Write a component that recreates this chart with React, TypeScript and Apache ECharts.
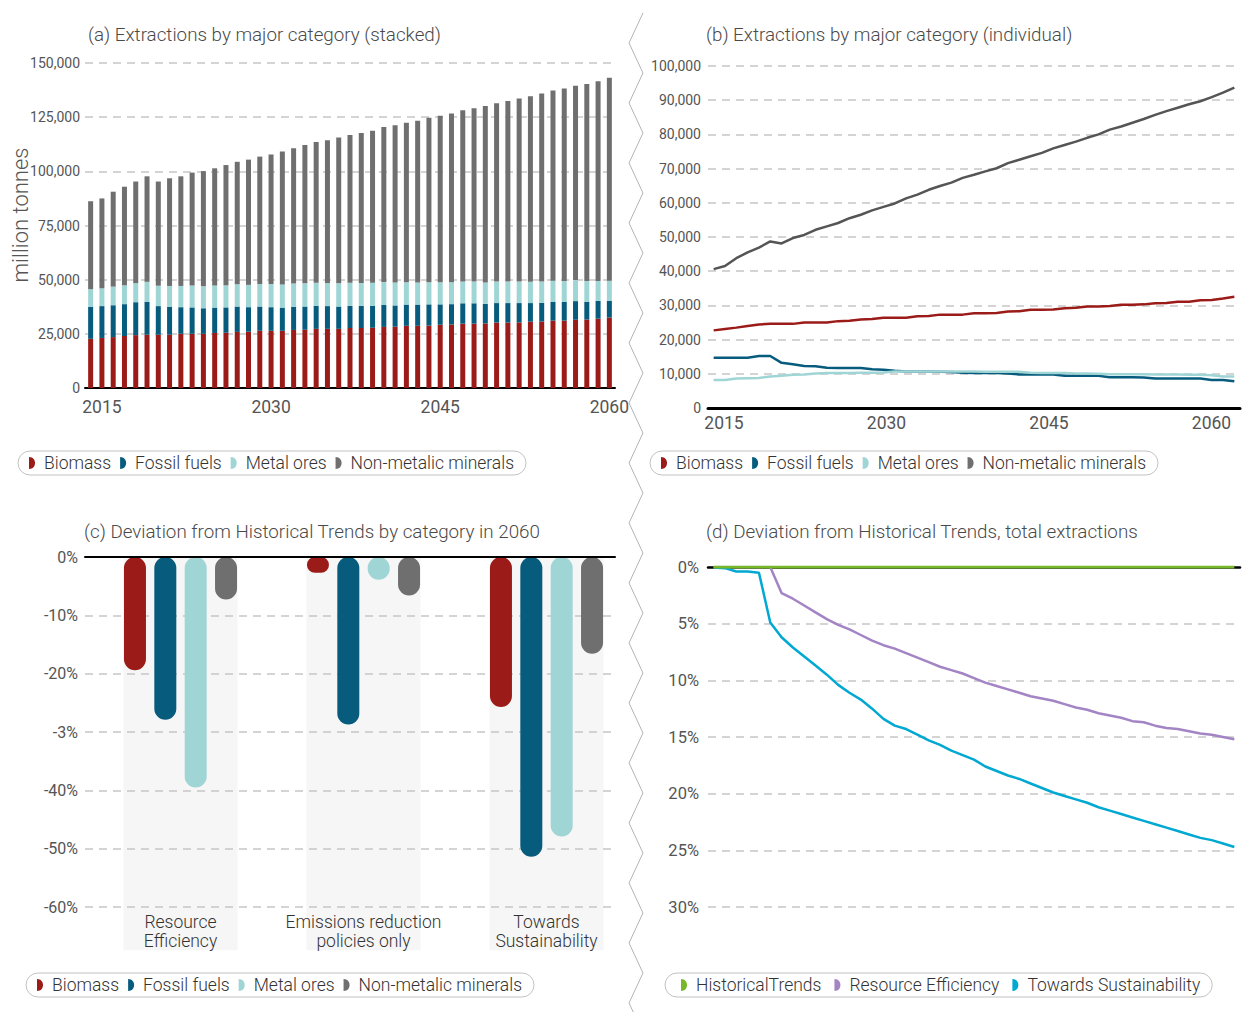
import { useEffect, useRef } from "react";
import * as echarts from "echarts";

// ---------- data ----------
const years = [
  "2014", "2015", "2016", "2017", "2018", "2019", "2020", "2021", "2022", "2023",
  "2024", "2025", "2026", "2027", "2028", "2029", "2030", "2031", "2032", "2033",
  "2034", "2035", "2036", "2037", "2038", "2039", "2040", "2041", "2042", "2043",
  "2044", "2045", "2046", "2047", "2048", "2049", "2050", "2051", "2052", "2053",
  "2054", "2055", "2056", "2057", "2058", "2059", "2060",
];
const yearTicks = ["2015", "2030", "2045", "2060"];
const yearTickValues = [2015, 2030, 2045, 2060];

const categories = ["Biomass", "Fossil fuels", "Metal ores", "Non-metalic minerals"];

const biomass = [
  22700, 23100, 23500, 24000, 24400, 24600, 24600, 24600, 25000, 25000,
  25000, 25400, 25500, 25900, 26000, 26400, 26400, 26400, 26800, 26900,
  27300, 27300, 27300, 27700, 27700, 27800, 28200, 28300, 28700, 28700,
  28800, 29200, 29300, 29700, 29700, 29800, 30200, 30200, 30300, 30600,
  30700, 31100, 31100, 31500, 31600, 32000, 32500,
];
const fossilFuels = [
  14700, 14700, 14700, 14700, 15200, 15200, 13200, 12800, 12300, 12200,
  11800, 11700, 11700, 11700, 11300, 11200, 10900, 10700, 10700, 10700,
  10600, 10500, 10300, 10200, 10200, 10200, 10100, 9800, 9800, 9800,
  9800, 9400, 9400, 9400, 9400, 9000, 9000, 9000, 8900, 8600,
  8600, 8600, 8600, 8600, 8200, 8200, 7800,
];
const metalOres = [
  8200, 8200, 8600, 8700, 8800, 9200, 9400, 9700, 9800, 10100,
  10200, 10200, 10200, 10300, 10300, 10400, 10700, 10700, 10700, 10700,
  10700, 10700, 10700, 10700, 10600, 10600, 10600, 10600, 10300, 10200,
  10200, 10200, 10100, 10100, 10000, 9900, 9900, 9900, 9900, 9800,
  9800, 9800, 9700, 9700, 9600, 9200, 9200,
];
const nonMetallic = [
  40600, 41500, 43800, 45500, 46900, 48700, 48100, 49700, 50600, 52100,
  53100, 54100, 55500, 56500, 57800, 58800, 59800, 61300, 62400, 63800,
  64900, 65900, 67300, 68200, 69200, 70100, 71600, 72600, 73600, 74600,
  75900, 76900, 77900, 79000, 80000, 81400, 82300, 83400, 84500, 85700,
  86800, 87800, 88800, 89700, 90900, 92200, 93700,
];

const scenarios = ["Resource\nEfficiency", "Emissions reduction\npolicies only", "Towards\nSustainability"];
const devBiomass = [-19.4, -2.7, -25.7];
const devFossil = [-27.9, -28.7, -51.4];
const devMetal = [-39.5, -3.9, -47.9];
const devNonMetallic = [-7.3, -6.6, -16.6];
const pctTicksC = ["0%", "-10%", "-20%", "-3%", "-40%", "-50%", "-60%"];

const pathways = ["HistoricalTrends", "Resource Efficiency", "Towards Sustainability"];
const historicalTrends = [
  0, 0, 0, 0, 0, 0, 0, 0, 0, 0,
  0, 0, 0, 0, 0, 0, 0, 0, 0, 0,
  0, 0, 0, 0, 0, 0, 0, 0, 0, 0,
  0, 0, 0, 0, 0, 0, 0, 0, 0, 0,
  0, 0, 0, 0, 0, 0, 0,
];
const resourceEfficiency = [
  0, 0, 0, 0, 0, 0, 2.3, 2.8, 3.4, 4.0,
  4.6, 5.1, 5.5, 6.0, 6.5, 6.9, 7.2, 7.6, 8.0, 8.4,
  8.8, 9.1, 9.4, 9.8, 10.2, 10.5, 10.8, 11.1, 11.4, 11.6,
  11.8, 12.1, 12.4, 12.6, 12.9, 13.1, 13.3, 13.6, 13.7, 14.0,
  14.2, 14.3, 14.5, 14.7, 14.8, 15.0, 15.2,
];
const towardsSustainability = [
  0.05, 0.1, 0.4, 0.4, 0.5, 4.9, 6.2, 7.1, 7.9, 8.7,
  9.5, 10.4, 11.1, 11.7, 12.5, 13.4, 14.0, 14.3, 14.8, 15.3,
  15.7, 16.2, 16.6, 17.0, 17.6, 18.0, 18.4, 18.7, 19.1, 19.5,
  19.9, 20.2, 20.5, 20.8, 21.2, 21.5, 21.8, 22.1, 22.4, 22.7,
  23.0, 23.3, 23.6, 23.9, 24.1, 24.4, 24.7,
];

// ---------- styles ----------
const FONT = 'Roboto, "Noto Sans", sans-serif';
const catColors = ["#9b1b18", "#075b7c", "#a0d5d6", "#6f6f6f"];
const lineColorsB = ["#9b1b18", "#075b7c", "#a0d5d6", "#555555"];
const pathColors = ["#76b82a", "#a384c4", "#00a8d2"];
const labelColor = "#555555";
const gridLine = { show: true, lineStyle: { color: "#c6c6c6", type: [8, 6], width: 1.5 } };
const legendIcon = "path://M0,0 C8,0 8,12 0,12 Z";

function legendBox(left: number, top: number, data: string[], gap: number, padLeft: number) {
  return {
    left,
    top,
    data,
    orient: "horizontal",
    icon: legendIcon,
    itemWidth: 14,
    itemHeight: 12,
    itemGap: gap,
    selectedMode: false,
    padding: [3, 12, 3, padLeft],
    borderColor: "#c2c2c2",
    borderWidth: 1,
    borderRadius: 13,
    textStyle: { fontSize: 17.5, fontWeight: 300, color: "#333333", fontFamily: FONT },
  };
}

function buildOption() {
  const zig: number[][] = [];
  for (let k = 0; k <= 34; k++) zig.push([k % 2 === 0 ? 643 : 629, 13 + 30 * k]);

  const seriesData = [biomass, fossilFuels, metalOres, nonMetallic];
  const devData = [devBiomass, devFossil, devMetal, devNonMetallic];
  const pathData = [historicalTrends, resourceEfficiency, towardsSustainability];

  const series: any[] = [];
  categories.forEach((name, i) => {
    series.push({
      name,
      type: "bar",
      stack: "total",
      xAxisIndex: 0,
      yAxisIndex: 0,
      barWidth: 5,
      data: seriesData[i],
      itemStyle: { color: catColors[i] },
    });
  });
  categories.forEach((name, i) => {
    series.push({
      name,
      type: "line",
      xAxisIndex: 1,
      yAxisIndex: 1,
      symbol: "none",
      data: seriesData[i],
      lineStyle: { color: lineColorsB[i], width: 2.5 },
      itemStyle: { color: catColors[i] },
    });
  });
  series.push({
    name: "band",
    type: "bar",
    xAxisIndex: 5,
    yAxisIndex: 3,
    barWidth: 114,
    clip: false,
    silent: true,
    z: 0,
    data: scenarios.map(() => -67.4),
    itemStyle: { color: "#f6f6f6" },
  });
  categories.forEach((name, i) => {
    series.push({
      name,
      type: "bar",
      xAxisIndex: 4,
      yAxisIndex: 3,
      barWidth: 22,
      barGap: "38%",
      data: devData[i],
      itemStyle: { color: catColors[i], borderRadius: 11 },
    });
  });
  pathways.forEach((name, i) => {
    series.push({
      name,
      type: "line",
      xAxisIndex: 6,
      yAxisIndex: 4,
      symbol: "none",
      z: i === 0 ? 4 : 3,
      data: pathData[i],
      lineStyle: { color: pathColors[i], width: i === 0 ? 3 : 2.5 },
      itemStyle: { color: pathColors[i] },
    });
  });

  const titleStyle = { fontSize: 18.8, fontWeight: 300, color: "#4a4a4a", fontFamily: FONT };

  return {
    animation: false,
    backgroundColor: "#ffffff",
    textStyle: { fontFamily: FONT },
    title: [
      { text: "(a) Extractions by major category (stacked)", left: 88, top: 25, padding: 0, textStyle: titleStyle },
      { text: "(b) Extractions by major category (individual)", left: 706, top: 25, padding: 0, textStyle: titleStyle },
      { text: "(c) Deviation from Historical Trends by category in 2060", left: 84, top: 522, padding: 0, textStyle: titleStyle },
      { text: "(d) Deviation from Historical Trends, total extractions", left: 706, top: 522, padding: 0, textStyle: titleStyle },
    ],
    legend: [
      legendBox(18, 451, categories, 9, 11),
      legendBox(650, 451, categories, 9, 11),
      legendBox(26, 973, categories, 9, 11),
      legendBox(665, 973, pathways, 13, 16),
    ],
    grid: [
      { left: 85, top: 63, width: 530, height: 325 },
      { left: 708, top: 66, width: 532, height: 342 },
      { left: 85, top: 557, width: 530, height: 350 },
      { left: 89, top: 557, width: 549, height: 350 },
      { left: 708, top: 567, width: 532, height: 340 },
    ],
    xAxis: [
      {
        gridIndex: 0,
        type: "category",
        data: years,
        boundaryGap: true,
        axisLine: { lineStyle: { color: "#000000", width: 2 } },
        axisTick: { show: false },
        axisLabel: {
          interval: (_i: number, v: string) => yearTicks.includes(v),
          color: labelColor,
          fontSize: 17.5,
          margin: 10,
        },
      },
      {
        gridIndex: 1,
        type: "category",
        data: years,
        boundaryGap: true,
        axisLine: { lineStyle: { color: "#000000", width: 3 } },
        axisTick: { show: false },
        axisLabel: { show: false },
      },
      {
        gridIndex: 1,
        type: "value",
        position: "bottom",
        min: 2013.52,
        max: 2062.63,
        axisLine: { show: false },
        axisTick: { show: false },
        splitLine: { show: false },
        axisLabel: {
          customValues: yearTickValues,
          formatter: (v: number) => String(v),
          color: labelColor,
          fontSize: 17.5,
          margin: 6,
        },
      },
      {
        gridIndex: 2,
        type: "category",
        data: scenarios,
        position: "top",
        z: 3,
        axisLine: { lineStyle: { color: "#000000", width: 2 } },
        axisTick: { show: false },
        axisLabel: { show: false },
      },
      {
        gridIndex: 3,
        type: "category",
        data: scenarios,
        position: "bottom",
        axisLine: { show: false },
        axisTick: { show: false },
        axisLabel: {
          interval: 0,
          hideOverlap: false,
          color: "#333333",
          fontSize: 17.5,
          fontWeight: 300,
          lineHeight: 19,
          margin: 5,
        },
      },
      {
        gridIndex: 3,
        type: "category",
        data: scenarios,
        position: "bottom",
        show: false,
      },
      {
        gridIndex: 4,
        type: "category",
        data: years,
        position: "top",
        boundaryGap: true,
        axisLine: { lineStyle: { color: "#000000", width: 2.5 } },
        axisTick: { show: false },
        axisLabel: { show: false },
      },
    ],
    yAxis: [
      {
        gridIndex: 0,
        type: "value",
        min: 0,
        max: 150000,
        interval: 25000,
        axisLine: { show: false },
        axisTick: { show: false },
        splitLine: gridLine,
        axisLabel: { color: labelColor, fontSize: 14, margin: 5, formatter: (v: number) => v.toLocaleString("en-US") },
      },
      {
        gridIndex: 1,
        type: "value",
        min: 0,
        max: 100000,
        interval: 10000,
        axisLine: { show: false },
        axisTick: { show: false },
        splitLine: gridLine,
        axisLabel: { color: labelColor, fontSize: 14, margin: 7, formatter: (v: number) => v.toLocaleString("en-US") },
      },
      {
        gridIndex: 2,
        type: "value",
        min: -60,
        max: 0,
        interval: 10,
        z: 1,
        axisLine: { show: false },
        axisTick: { show: false },
        splitLine: gridLine,
        axisLabel: { color: labelColor, fontSize: 16, margin: 7, formatter: (v: number) => pctTicksC[Math.round(-v / 10)] },
      },
      {
        gridIndex: 3,
        type: "value",
        min: -60,
        max: 0,
        show: false,
        splitLine: { show: false },
      },
      {
        gridIndex: 4,
        type: "value",
        min: 0,
        max: 30,
        interval: 5,
        inverse: true,
        axisLine: { show: false },
        axisTick: { show: false },
        splitLine: gridLine,
        axisLabel: { color: labelColor, fontSize: 16.5, margin: 9, formatter: (v: number) => v + "%" },
      },
    ],
    graphic: [
      {
        type: "polyline",
        silent: true,
        shape: { points: zig },
        style: { stroke: "#b4b4b4", lineWidth: 1, fill: null },
      },
      {
        type: "text",
        x: 20,
        y: 215,
        rotation: Math.PI / 2,
        style: {
          text: "million tonnes",
          fontSize: 22,
          fontWeight: 300,
          fontFamily: FONT,
          fill: labelColor,
          align: "center",
          verticalAlign: "middle",
        },
      },
    ],
    series,
  };
}

export default function App() {
  const ref = useRef<HTMLDivElement>(null);
  useEffect(() => {
    if (!ref.current) return;
    const chart = echarts.init(ref.current, undefined, { renderer: "svg" });
    chart.setOption(buildOption() as any);
    return () => chart.dispose();
  }, []);
  return (
    <div
      ref={ref}
      style={{ position: "absolute", left: 0, top: 0, width: 1245, height: 1012, background: "#ffffff" }}
    />
  );
}
